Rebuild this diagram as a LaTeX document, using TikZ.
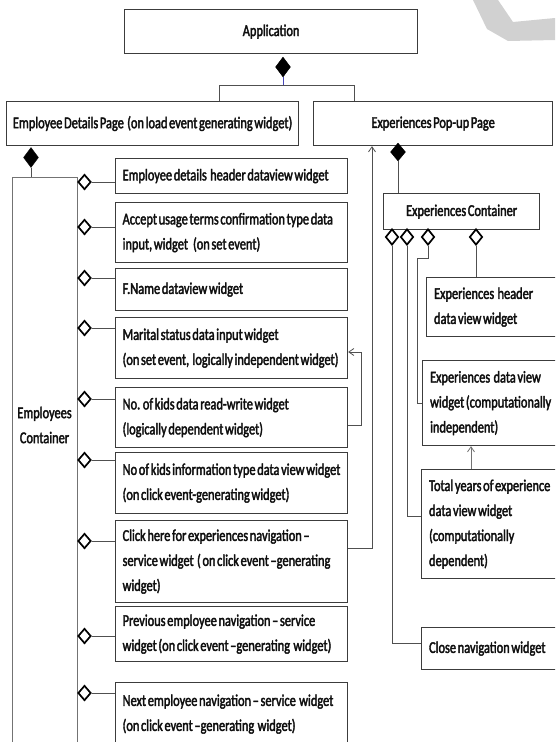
\documentclass[tikz,border=0pt]{standalone}
\usepackage{fontspec}
\setmainfont{Carlito}[FakeStretch=0.75,FakeBold=2.2,WordSpace=0.6]
\usetikzlibrary{shapes.geometric,arrows.meta}
\definecolor{ink}{HTML}{0F0F0F}
\definecolor{edge}{HTML}{3C3C3C}
\definecolor{wire}{HTML}{505050}
\tikzset{
  box/.style={draw=edge,line width=1.2pt,rectangle,inner sep=0pt,anchor=north west,text=ink,font=\fontsize{16.5}{25}\selectfont},
  wbox/.style={box,align=left,inner xsep=7pt},
  cbox/.style={box,align=center},
  fdia/.style={diamond,fill=black,draw=black,inner sep=0pt,minimum width=15pt,minimum height=20pt},
  hdia/.style={diamond,fill=white,draw=black,line width=1.7pt,inner sep=0pt,minimum width=13pt,minimum height=15pt},
  conn/.style={draw=wire,line width=1pt},
  arr/.style={conn,line width=0.8pt,-{Straight Barb[length=5pt,width=7pt]}},
}
\newcommand{\lx}[1]{\mbox{\spaceskip=0pt\xspaceskip=0pt\relax #1}}
\newcommand{\wbx}[6]{% name x1 y1 x2 y2 text
  \node[wbox,minimum width=#4pt-#2pt,minimum height=#5pt-#3pt,text width=#4pt-#2pt-14pt] (#1) at (#2,#3) {#6};}
\newcommand{\cbx}[6]{%
  \node[cbox,minimum width=#4pt-#2pt,minimum height=#5pt-#3pt] (#1) at (#2,#3) {#6};}
\begin{document}
\begin{tikzpicture}[x=1pt,y=-1pt]
\useasboundingbox (0,0) rectangle (555,742);
\clip (0,0) rectangle (555,742);
\fill[white] (0,0) rectangle (555,742);
% watermark
\fill[black!18] (473,0) -- (498,0) -- (513,22) -- (555,18) -- (555,40) -- (508,41) -- (487,29) -- cycle;

% top level
\cbx{app}{124}{9}{417}{53}{Application}
\cbx{edp}{6}{101}{298}{145}{Employee Details Page\ \ (on load event generating widget)}
\cbx{epp}{313}{101}{552}{145}{Experiences Pop-up Page}
\node[fdia] (dA) at (283,67) {};
\coordinate (jA) at (283,85);
\coordinate (jL) at (219,85);
\coordinate (jR) at (354,85);
\draw[conn,draw=blue!45!gray] (dA.south) -- (jA);
\draw[conn] (edp.north -| jL) -- (jL) -- (jR) -- (epp.north -| jR);

% employees container
\node[fdia] (dE) at (31,157.5) {};
\node[draw=black!55,line width=1.2pt,rectangle,anchor=north west,minimum width=65pt,minimum height=600pt,inner sep=0pt] (empc) at (12,177) {};
\draw[conn] (dE.south) -- (dE.south |- empc.north);
\node[text=ink,font=\fontsize{16.5}{25}\selectfont,align=center] (empcl) at (44.5,425) {Employees\\Container};

\wbx{w1}{115}{158}{347}{193}{\lx{Employee details\ \ header dataview widget}}
\wbx{w2}{115}{202}{347}{262}{\lx{Accept usage terms confirmation type data}\\\lx{input, widget\ \ \ (on set event)}}
\wbx{w3}{115}{268}{347}{310}{\lx{F.Name dataview widget}}
\wbx{w4}{115}{317}{347}{378}{\lx{Marital status data input widget}\\\lx{(on set event,\ \ logically independent widget)}}
\wbx{w5}{115}{387}{347}{447}{\lx{No. of kids data read-write widget}\\\lx{(logically dependent widget)}}
\wbx{w6}{115}{452}{347}{513}{\lx{No of kids information type data view widget}\\\lx{(on click event-generating widget)}}
\wbx{w7}{115}{520}{347}{602}{\lx{Click here for experiences navigation --}\\\lx{service widget\ \ ( on click event --generating}\\\lx{widget)}}
\wbx{w8}{115}{606}{347}{661}{\lx{Previous employee navigation -- service}\\\lx{widget (on click event --generating\ \ widget)}}
\wbx{w9}{115}{682}{347}{745}{\lx{Next employee navigation -- service\ \ widget}\\\lx{(on click event --generating\ \ widget)}}

\foreach \n/\yy in {1/182,2/227,3/278,4/328,5/399,6/460,7/541,8/636,9/693}{
  \node[hdia] (h\n) at (84.5,\yy) {};
  \draw[conn] (h\n.east) -- (w\n.west |- h\n.east);
}

% links between widgets
\coordinate (mA) at (361,425);
\coordinate (mB) at (361,352);
\draw[arr] (w5.east |- mA) -- (mA) -- (mB) -- (w4.east |- mB);
\coordinate (cA) at (372,548);
\draw[arr] (w7.east |- cA) -- (cA) -- (cA |- epp.south);

% experiences container
\node[fdia,minimum height=18pt] (dP) at (398,152) {};
\cbx{expc}{383}{193}{539}{229}{Experiences Container}
\draw[conn] (dP.south) -- (dP.south |- expc.north);
\node[hdia,minimum height=16pt] (e1) at (392,237) {};
\node[hdia,minimum height=16pt] (e2) at (407,237) {};
\node[hdia,minimum height=16pt] (e3) at (428,237) {};
\node[hdia,minimum height=16pt] (e4) at (476,237) {};

\node[wbox,minimum width=140pt,minimum height=59pt,text width=125pt] (x1) at (426,277) {\lx{Experiences\ \ header}\\\lx{data view widget}};
\node[wbox,minimum width=140pt,minimum height=85pt,text width=125pt] (x2) at (422,360) {\lx{Experiences\ \ data view}\\\lx{widget (computationally}\\\lx{independent)}};
\node[wbox,minimum width=140pt,minimum height=109pt,text width=125pt] (x3) at (421,469) {\lx{Total years of experience}\\\lx{data view widget}\\\lx{(computationally}\\\lx{dependent)}};
\node[wbox,minimum width=140pt,minimum height=42pt,text width=125pt] (x4) at (421,627) {\lx{Close navigation widget}};

\draw[conn] (e4.south) -- (e4.south |- x1.north);
\coordinate (k1) at (428,258);
\coordinate (k2) at (417,258);
\draw[conn] (e3.south) -- (k1) -- (k2) |- (x2.west);
\draw[conn] (e2.south) |- ([yshift=8pt]x3.west);
\draw[conn] (e1.south) |- ([yshift=5pt]x4.west);
\draw[arr,draw=black!55] (x3.north -| 471,0) -- (x2.south -| 471,0);
\end{tikzpicture}
\end{document}
